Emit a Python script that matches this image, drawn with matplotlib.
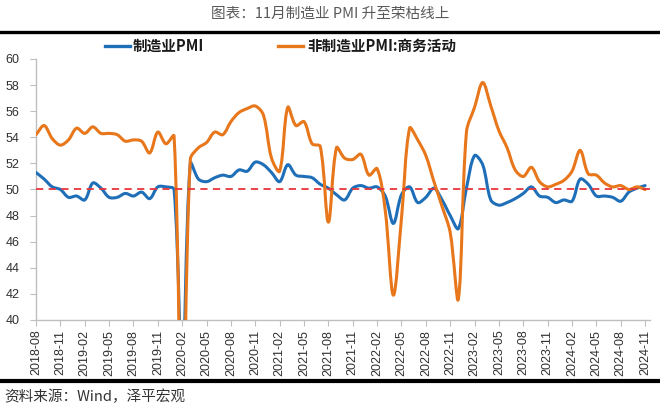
import numpy as np
import matplotlib
matplotlib.use("Agg")
import matplotlib.pyplot as plt
from matplotlib.path import Path
from matplotlib.patches import PathPatch
from matplotlib.lines import Line2D

plt.rcParams['font.family'] = ['Noto Sans CJK SC', 'DejaVu Sans']

# ---------------- data ----------------
start_year, start_month = 2018, 8
n_months = 76
month_labels = []
y, m = start_year, start_month
for _ in range(n_months):
    month_labels.append(f"{y}-{m:02d}")
    m += 1
    if m > 12:
        m = 1
        y += 1

mfg_pmi = [51.3, 50.8, 50.2, 50.0, 49.4,
           49.5, 49.2, 50.5, 50.1, 49.4, 49.4, 49.7, 49.5, 49.8, 49.3, 50.2, 50.2,
           50.0, 35.7, 52.0, 50.8, 50.6, 50.9, 51.1, 51.0, 51.5, 51.4, 52.1, 51.9,
           51.3, 50.6, 51.9, 51.1, 51.0, 50.9, 50.4, 50.1, 49.6, 49.2, 50.1, 50.3,
           50.1, 50.2, 49.5, 47.4, 49.6, 50.2, 49.0, 49.4, 50.1, 49.2, 48.0, 47.0,
           50.1, 52.6, 51.9, 49.2, 48.8, 49.0, 49.3, 49.7, 50.2, 49.5, 49.4, 49.0,
           49.2, 49.1, 50.8, 50.4, 49.5, 49.5, 49.4, 49.1, 49.8, 50.1, 50.3]

nonmfg_business = [54.2, 54.9, 53.9, 53.4, 53.8,
                   54.7, 54.3, 54.8, 54.3, 54.3, 54.2, 53.7, 53.8, 53.7, 52.8, 54.4, 53.5,
                   54.1, 29.6, 52.3, 53.2, 53.6, 54.4, 54.2, 55.2, 55.9, 56.2, 56.4, 55.7,
                   52.4, 51.4, 56.3, 54.9, 55.2, 53.5, 53.3, 47.5, 53.2, 52.4, 52.3, 52.7,
                   51.1, 51.6, 48.4, 41.9, 47.8, 54.7, 53.8, 52.6, 50.6, 48.7, 46.7, 41.6,
                   54.4, 56.3, 58.2, 56.4, 54.5, 53.2, 51.5, 51.0, 51.7, 50.6, 50.2, 50.4,
                   50.7, 51.4, 53.0, 51.2, 51.1, 50.5, 50.2, 50.3, 50.0, 50.2, 50.0]

series_names = ["制造业PMI", "非制造业PMI:商务活动"]
series_colors = ["#1F6FB8", "#E8771B"]
threshold = 50

title_text = "图表：11月制造业 PMI 升至荣枯线上"
source_text = "资料来源：Wind，泽平宏观"

W, H = 660, 407
left_px, right_px, top_px, bottom_px = 36, 650, 59, 320
XMAX = 75.6
YMIN, YMAX = 40, 60
SX = (right_px - left_px) / XMAX          # px per month
SY = (bottom_px - top_px) / (YMAX - YMIN)  # px per unit


def smooth_path(xs, ys):
    """Bezier smoothing (chord-scaled Catmull-Rom) computed in screen proportions."""
    P = np.column_stack([np.asarray(xs, float) * SX, np.asarray(ys, float) * SY])
    n = len(P)
    L = np.hypot(*np.diff(P, axis=0).T)  # segment lengths
    D = np.zeros_like(P)
    D[1:-1] = P[2:] - P[:-2]
    verts = [P[0]]
    codes = [Path.MOVETO]
    for i in range(n - 1):
        if i == 0:
            c1 = P[0] + (P[1] - P[0]) / 3.0
        else:
            c1 = P[i] + D[i] * L[i] / (L[i - 1] + L[i]) / 3.0
        if i + 1 == n - 1:
            c2 = P[i + 1] - (P[i + 1] - P[i]) / 3.0
        else:
            c2 = P[i + 1] - D[i + 1] * L[i] / (L[i] + L[i + 1]) / 3.0
        verts += [c1, c2, P[i + 1]]
        codes += [Path.CURVE4] * 3
    V = np.array(verts)
    V[:, 0] /= SX
    V[:, 1] /= SY
    return Path(V, codes)


fig = plt.figure(figsize=(W / 100, H / 100), dpi=100)
fig.patch.set_facecolor("white")
ax = fig.add_axes([left_px / W, 1 - bottom_px / H,
                   (right_px - left_px) / W, (bottom_px - top_px) / H])

x = np.arange(len(month_labels))
for vals, col in zip([mfg_pmi, nonmfg_business], series_colors):
    patch = PathPatch(smooth_path(x, vals), facecolor="none", edgecolor=col,
                      lw=2.2, capstyle="round", joinstyle="round", zorder=3)
    ax.add_patch(patch)

ax.axhline(threshold, color="#E8353B", lw=1.3, ls=(0, (4, 3)), zorder=4)

ax.set_xlim(0, XMAX)
ax.set_ylim(YMIN, YMAX)
ax.set_yticks(np.arange(40, 61, 2))
ax.set_xticks(x[::3])
ax.set_xticklabels(month_labels[::3], rotation=90, family="Liberation Sans",
                   fontsize=9, color="#303030")
for lab in ax.get_yticklabels():
    lab.set_family("Liberation Sans")
ax.tick_params(axis="y", labelsize=9, labelcolor="#303030", length=4,
               color="#BFBFBF", pad=8, direction="out")
ax.tick_params(axis="x", length=4, color="#BFBFBF", pad=3, direction="out")
for s in ["top", "right"]:
    ax.spines[s].set_visible(False)
for s in ["left", "bottom"]:
    ax.spines[s].set_color("#BFBFBF")
    ax.spines[s].set_linewidth(1.0)

# legend (manual placement)
leg_y = 1 - 46 / H
fig.add_artist(Line2D([105 / W, 130 / W], [leg_y, leg_y], color=series_colors[0], lw=2.4))
fig.text(133 / W, leg_y, series_names[0], fontsize=10.5, fontweight="bold",
         va="center", ha="left", color="#1a1a1a")
fig.add_artist(Line2D([278 / W, 303 / W], [leg_y, leg_y], color=series_colors[1], lw=2.4))
fig.text(307 / W, leg_y, series_names[1], fontsize=10.5, fontweight="bold",
         va="center", ha="left", color="#1a1a1a")

# title and frame lines
fig.text(0.5, 1 - 14 / H, title_text, fontsize=10.5, ha="center", va="center",
         color="#595959")
fig.add_artist(Line2D([0, 1], [1 - 32 / H, 1 - 32 / H], color="black", lw=2.4))
fig.add_artist(Line2D([0, 1], [1 - 381 / H, 1 - 381 / H], color="black", lw=3.0))
fig.text(4 / W, 1 - 397 / H, source_text, fontsize=10.5, ha="left", va="center",
         color="#333333", style="italic")

fig.savefig("out.png", dpi=100)
